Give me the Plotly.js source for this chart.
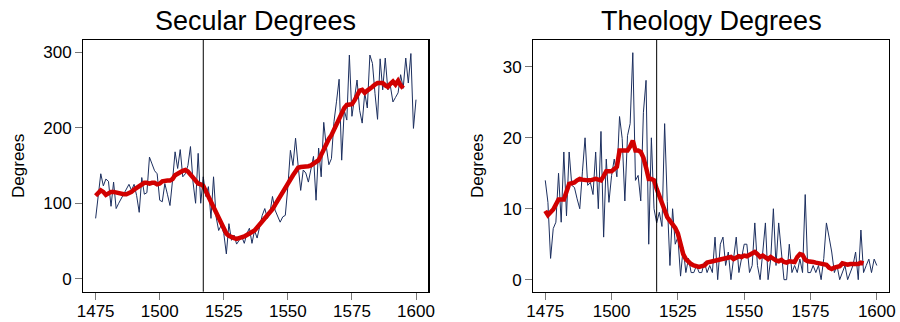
<!DOCTYPE html>
<html>
<head>
<meta charset="utf-8">
<script src="https://cdn.plot.ly/plotly-3.0.1.min.js"></script>
<style>html,body{margin:0;padding:0;background:#fff}#chart{width:900px;height:322px}</style>
</head>
<body>
<div id="chart"></div>
<script>
// Yearly degree counts, 1475-1600
const firstYear = 1475;
const secularDegrees = [
 80,110,139,123,132,129,96,128,93,100,
 106,112,120,125,117,125,110,88,134,112,
 114,161,152,143,139,104,102,126,112,97,
 130,168,146,171,135,139,150,175,128,100,
 166,100,135,109,122,80,135,82,64,71,
 60,33,73,51,58,46,51,56,47,60,
 67,47,64,54,69,84,93,80,87,109,
 91,82,75,82,84,122,170,150,186,150,
 117,144,140,128,145,162,104,173,135,207,
 175,151,159,208,235,264,157,223,210,296,
 215,240,263,223,206,246,226,296,285,245,
 211,291,250,292,250,255,234,240,246,270,
 252,292,259,298,199,237];
// Smoothed secular (1475-1595)
const secularSmooth = [
 110,113,117,115,111,113,115,115,114,113,
 113,112,112,113,115,118,120,122,125,127,
 127,126,127,127,125,126,129,130,130,130,
 132,137,140,141,143,144,142,138,134,129,
 126,125,123,116,109,100,92,85,78,71,
 64,60,57,55,54,53,54,54,56,58,
 60,62,64,68,72,76,80,83,86,92,
 98,104,110,116,122,127,131,137,142,147,
 148,148,149,149,150,152,154,157,164,172,
 179,185,190,197,204,212,220,226,230,231,
 231,236,244,249,250,246,249,251,254,257,
 259,259,259,256,254,258,261,257,262,256,
 252];
const theologyDegrees = [
 14,10.9,3,7.2,8.1,15,8.1,18,9,18,
 13.3,13,11.4,10,15.2,20,13.3,13.7,12,18,
 10,20.9,6,17,10.9,14.7,17,14.5,23,19.9,
 11.1,20.3,22,32,14,14.7,11.1,23.6,28.1,5,
 20,10,8,9.5,7.5,22,11,2,10,5,
 6,0.5,4.5,1,3,1,1,2,1,1,
 2.5,1,2,1,6,0,5,6,2,3.9,
 0,3,6,1,2.9,5,5,1,2,8,
 2,0,3.9,8,0,2.9,10,2,8,3.9,
 0,0,5,1,2,1,2.9,1,12,1,
 1,2,1,2,0,3,8,6,3.9,1,
 2,0,1,2,0,1,2,3.9,0,7,
 1,2,2.9,1,2.9,2];
const theologySmooth = [
 9.7,9.1,9.5,9.9,10.6,11.3,11.3,11.3,12.4,13.5,
 13.6,13.7,14,14.2,14.1,14,14,14,14.1,14.2,
 14.1,14,14.6,15.3,15.3,15.3,15.6,15.9,18.2,18.2,
 18.2,18.2,18.8,19.6,18.2,18.2,18,17.2,15.8,14.2,
 14.2,14,12.8,11.8,10.9,9.8,8.8,8.3,7.9,7.3,
 6.5,5,3.6,2.9,2.5,2.2,2,1.9,1.8,1.9,
 2,2.4,2.5,2.6,2.6,2.8,2.8,2.9,3,3.1,
 3.2,2.9,3.1,3.3,3.2,3.4,3.3,3.5,3.6,3.9,
 3.6,3.2,3.4,3.1,2.9,3.2,2.9,2.7,2.6,2.8,
 2.5,2.4,2.6,2.6,2.5,3.2,3.6,3.5,2.8,2.6,
 2.6,2.5,2.4,2.3,2.2,2.2,2.1,1.7,1.5,1.7,
 1.8,1.9,2.3,2.2,2.1,2.2,2.2,2.3,2.2,2.4,
 2.3];
const reformationYear = 1517;
const panelTitles = ['Secular Degrees', 'Theology Degrees'];
const xTicks = [1475, 1500, 1525, 1550, 1575, 1600];
const secularTicks = [0, 100, 200, 300];
const theologyTicks = [0, 10, 20, 30];

function yearsFor(arr){ return arr.map((_, i) => firstYear + i); }

const navy = '#1c2f5f';
const red = '#d10000';
const FONT = 'Liberation Sans, Arial, Helvetica, sans-serif';

const traces = [
 {x: yearsFor(secularDegrees), y: secularDegrees, type:'scatter', mode:'lines', line:{color:navy, width:1}, xaxis:'x', yaxis:'y', hoverinfo:'skip'},
 {x: yearsFor(secularSmooth), y: secularSmooth, type:'scatter', mode:'lines', line:{color:red, width:4.5}, xaxis:'x', yaxis:'y', hoverinfo:'skip'},
 {x: yearsFor(theologyDegrees), y: theologyDegrees, type:'scatter', mode:'lines', line:{color:navy, width:1}, xaxis:'x2', yaxis:'y2', hoverinfo:'skip'},
 {x: yearsFor(theologySmooth), y: theologySmooth, type:'scatter', mode:'lines', line:{color:red, width:4.5}, xaxis:'x2', yaxis:'y2', hoverinfo:'skip'}
];

const xBase = {
 range:[1470.2, 1604.8], tickvals:xTicks, ticks:'outside', ticklen:7, tickcolor:'#777', tickwidth:1,
 showline:true, mirror:true, linecolor:'#000', linewidth:1.2, showgrid:false, zeroline:false,
 ticklabelstandoff:-3,
 tickfont:{size:17, color:'#000', family:FONT}
};
const yBase = {
 ticks:'outside', ticklen:7, tickcolor:'#777', tickwidth:1,
 showline:true, mirror:true, linecolor:'#000', linewidth:1.2, showgrid:false, zeroline:false,
 tickfont:{size:17, color:'#000', family:FONT},
 title:{text:'Degrees', font:{size:17, color:'#000', family:FONT}, standoff:14}
};

const layout = {
 width:900, height:322,
 margin:{l:0, r:0, t:0, b:0},
 paper_bgcolor:'#fff', plot_bgcolor:'#fff',
 showlegend:false,
 font:{family:FONT, color:'#000'},
 xaxis: Object.assign({}, xBase, {domain:[0.0926, 0.4759], anchor:'y'}),
 yaxis: Object.assign({}, yBase, {domain:[0.094, 0.876], range:[-17, 316], tickvals:secularTicks, anchor:'x'}),
 xaxis2: Object.assign({}, xBase, {domain:[0.5926, 0.9878], anchor:'y2', range:[1470.5, 1604.6]}),
 yaxis2: Object.assign({}, yBase, {domain:[0.094, 0.876], range:[-1.7, 33.8], tickvals:theologyTicks, anchor:'x2'}),
 shapes:[
  {type:'line', xref:'x', yref:'y domain', x0:reformationYear, x1:reformationYear, y0:0, y1:1, line:{color:'#000', width:1}},
  {type:'line', xref:'x2', yref:'y2 domain', x0:reformationYear, x1:reformationYear, y0:0, y1:1, line:{color:'#000', width:1}}
 ],
 annotations:[
  {text:panelTitles[0], xref:'x domain', yref:'paper', x:0.5, y:1, yshift:-4, xanchor:'center', yanchor:'top', showarrow:false, font:{size:27, color:'#000', family:FONT}},
  {text:panelTitles[1], xref:'x2 domain', yref:'paper', x:0.5, y:1, yshift:-4, xanchor:'center', yanchor:'top', showarrow:false, font:{size:27, color:'#000', family:FONT}}
 ]
};

Plotly.newPlot('chart', traces, layout, {displayModeBar:false, staticPlot:true});
</script>
</body>
</html>
